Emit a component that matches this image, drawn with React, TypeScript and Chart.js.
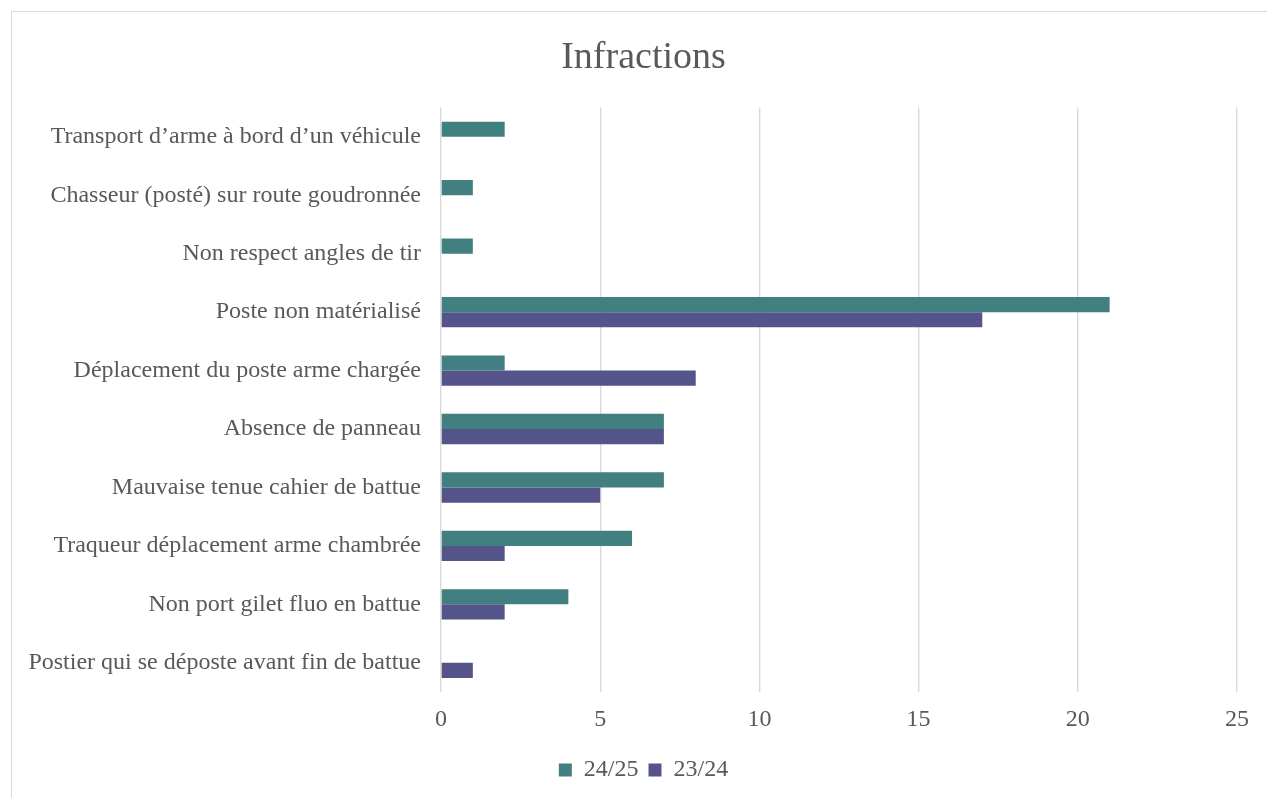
import React, { useEffect, useRef } from "react";
import { Chart, registerables } from "chart.js";

Chart.register(...registerables);

const categories = [
  "Transport d’arme à bord d’un véhicule",
  "Chasseur (posté) sur route goudronnée",
  "Non respect angles de tir",
  "Poste non matérialisé",
  "Déplacement du poste arme chargée",
  "Absence de panneau",
  "Mauvaise tenue cahier de battue",
  "Traqueur déplacement arme chambrée",
  "Non port gilet fluo en battue",
  "Postier qui se déposte avant fin de battue",
];
const series2425 = [2, 1, 1, 21, 2, 7, 7, 6, 4, 0];
const series2324 = [0, 0, 0, 17, 8, 7, 5, 2, 2, 1];
const xTicks = [0, 5, 10, 15, 20, 25];

const FONT = "'Liberation Serif', 'Times New Roman', serif";
const TEXT = "#595959";

const fullWidthTitleLegend = {
  id: "fullWidthTitleLegend",
  afterLayout(chart: any) {
    const w = chart.width;
    if (chart.titleBlock) {
      chart.titleBlock.left = 0;
      chart.titleBlock.right = w;
    }
    if (chart.legend) {
      chart.legend.left = 0;
      chart.legend.right = w;
    }
  },
};

export default function App() {
  const ref = useRef<HTMLCanvasElement | null>(null);
  useEffect(() => {
    if (!ref.current) return;
    const chart = new Chart(ref.current, {
      type: "bar",
      data: {
        labels: categories,
        datasets: [
          { label: "24/25", data: series2425, backgroundColor: "#427F80", borderWidth: 0 },
          { label: "23/24", data: series2324, backgroundColor: "#54548A", borderWidth: 0 },
        ],
      },
      plugins: [fullWidthTitleLegend],
      options: {
        indexAxis: "y",
        animation: false,
        responsive: false,
        maintainAspectRatio: false,
        layout: { padding: { left: 0, right: 38, top: 0, bottom: 7 } },
        datasets: { bar: { categoryPercentage: 0.52, barPercentage: 1 } },
        plugins: {
          title: {
            display: true,
            text: "Infractions",
            color: TEXT,
            font: { family: FONT, size: 38, weight: "normal" },
            padding: { top: 23, bottom: 27 },
          },
          legend: {
            position: "bottom",
            labels: {
              color: TEXT,
              font: { family: FONT, size: 24 },
              boxWidth: 13,
              boxHeight: 13,
              padding: 10,
            },
          },
          tooltip: { enabled: false },
        },
        scales: {
          x: {
            min: 0,
            max: 25,
            afterBuildTicks: (axis: any) => {
              axis.ticks = xTicks.map((v) => ({ value: v }));
            },
            afterFit: (axis: any) => {
              axis.height = 56;
            },
            grid: { color: "#d9d9d9", lineWidth: 1.4, drawTicks: false },
            border: { display: false },
            ticks: { color: TEXT, font: { family: FONT, size: 24 }, padding: 13 },
          },
          y: {
            afterFit: (axis: any) => {
              axis.width = 429;
            },
            grid: { display: false, drawTicks: false },
            border: { display: false },
            ticks: { color: TEXT, font: { family: FONT, size: 24 }, padding: 20 },
          },
        },
      },
    });
    return () => chart.destroy();
  }, []);

  return (
    <div style={{ position: "fixed", inset: 0, overflow: "hidden", background: "#fff" }}>
      <div
        style={{
          position: "absolute",
          left: 11,
          top: 11,
          width: 1266,
          height: 790,
          border: "1.5px solid #d9d9d9",
          boxSizing: "border-box",
        }}
      >
        <canvas ref={ref} width={1263} height={787} style={{ display: "block" }} />
      </div>
    </div>
  );
}
